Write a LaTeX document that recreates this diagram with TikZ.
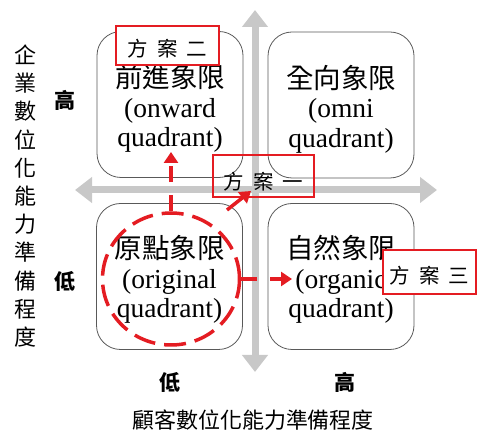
\documentclass[tikz,border=0pt]{standalone}
\usepackage{fontspec}
\setmainfont{Liberation Serif}
\newfontfamily\cjk{Noto Sans CJK TC}
\usetikzlibrary{arrows.meta,shapes.geometric}
\definecolor{axisgray}{RGB}{200,200,200}
\definecolor{myred}{RGB}{228,28,34}
\begin{document}
\begin{tikzpicture}[x=1pt,y=-1pt,
  quad/.style={draw=black!65, line width=0.8pt, rounded corners=24pt, minimum width=146pt, minimum height=146pt, inner sep=0pt},
  qtext/.style={align=center, inner sep=0pt, font=\fontsize{27.5}{29.5}\selectfont},
  axisline/.style={draw=axisgray, line width=7pt, {Triangle[width=25pt,length=17pt]}-{Triangle[width=25pt,length=17pt]}},
  planbox/.style={draw=myred, line width=2.2pt, inner sep=0pt},
  plantext/.style={inner sep=0pt, font=\cjk\fontsize{20.5}{22}\selectfont},
  redarrow/.style={draw=myred, line width=3.5pt, dash pattern=on 16pt off 13pt, -{Triangle[width=14pt,length=11pt]}},
  redsolid/.style={draw=myred, line width=3.5pt, -{Triangle[width=14pt,length=11pt]}},
  redcircle/.style={draw=myred, line width=3.5pt, dash pattern=on 22pt off 9pt, ellipse, inner sep=0pt},
  lvl/.style={inner sep=0pt, font=\cjk\bfseries\fontsize{21}{23}\selectfont},
  axlabel/.style={inner sep=0pt, align=center, font=\cjk\fontsize{22}{28.2}\selectfont}
]
\useasboundingbox (0,0) rectangle (480,435);
% axes
\coordinate (vt) at (255,10);
\coordinate (vb) at (255,372);
\coordinate (hl) at (75,190);
\coordinate (hr) at (437,190);
\draw[axisline] (vb) -- (vt);
\draw[axisline] (hl) -- (hr);
% quadrants
\node[quad] (tl) at (170,104.5) {};
\node[quad] (tr) at (341,105) {};
\node[quad] (bl) at (169.5,276.5) {};
\node[quad] (br) at (341,276.5) {};
\node[qtext] (tlt) at ([yshift=-4pt]tl.center) {{\cjk 前進象限}\\(onward\\quadrant)};
\node[qtext] (trt) at ([yshift=-4pt]tr.center) {{\cjk 全向象限}\\(omni\\quadrant)};
\node[qtext] (blt) at ([yshift=-3pt]bl.center) {{\cjk 原點象限}\\(original\\quadrant)};
\node[qtext] (brt) at ([yshift=-3pt]br.center) {{\cjk 自然象限}\\(organic\\quadrant)};
% axis labels
\node[axlabel] (ylab) at (25,196) {企\\業\\數\\位\\化\\能\\力\\準\\備\\程\\度};
\node[axlabel] (xlab) at (253,420) {顧客數位化能力準備程度};
\node[lvl] (yhi) at (65,100) {高};
\node[lvl] (ylo) at (65,281) {低};
\node[lvl] (xlo) at (170,382) {低};
\node[lvl] (xhi) at (345,382) {高};
% red circle and arrows
\node[redcircle, minimum width=137pt, minimum height=132pt] (circ) at (171,279) {};
\coordinate (upt) at (171,152);
\coordinate (dgs) at (227,210);
\coordinate (dgt) at (251,191);
\coordinate (rtt) at (292,279);
\draw[redarrow] (circ.north) -- (upt);
\draw[redsolid] (dgs) -- (dgt);
\draw[redarrow] (circ.east) -- (rtt);
% plan boxes
\node[planbox, fill=white, minimum width=103pt, minimum height=39pt] (p2) at (167.5,45.5) {};
\node[plantext] (p2t) at ([yshift=-3pt]p2.center) {方\hspace{9pt}案\hspace{9pt}二};
\node[planbox, minimum width=101pt, minimum height=42pt] (p1) at (263.5,176) {};
\node[plantext] (p1t) at ([yshift=-6pt]p1.center) {方\hspace{9pt}案\hspace{9pt}一};
\node[planbox, fill=white, minimum width=93pt, minimum height=44pt] (p3) at (429.5,272) {};
\node[plantext] (p3t) at ([yshift=-4pt]p3.center) {方\hspace{9pt}案\hspace{9pt}三};
\end{tikzpicture}
\end{document}
